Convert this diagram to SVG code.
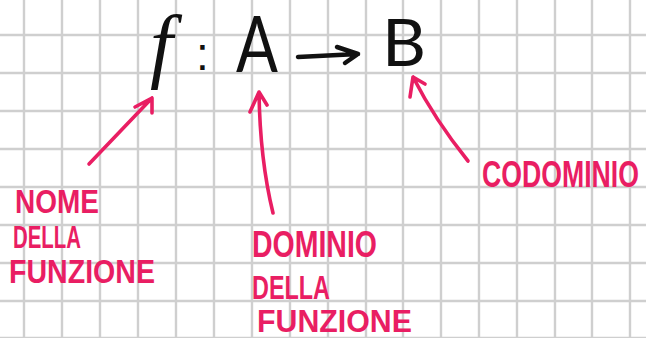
<svg xmlns="http://www.w3.org/2000/svg" width="646" height="338" viewBox="0 0 646 338">
<defs>
<style>
.grid line{stroke:#cfcfcf;stroke-width:2.4}
.ink{fill:#111}
.pink{fill:#e91e63;font-family:"Liberation Sans",Arial,sans-serif;font-weight:bold}
.pl{fill:none;stroke:#e91e63;stroke-width:3.6;stroke-linecap:round;stroke-linejoin:round}
.bl{fill:none;stroke:#111;stroke-width:4.5;stroke-linecap:round;stroke-linejoin:round}
</style>
</defs>
<rect width="646" height="338" fill="#ffffff"/>
<g class="grid">
<line x1="24" y1="0" x2="24" y2="338"/><line x1="62" y1="0" x2="62" y2="338"/><line x1="100" y1="0" x2="100" y2="338"/><line x1="138" y1="0" x2="138" y2="338"/><line x1="176" y1="0" x2="176" y2="338"/><line x1="214" y1="0" x2="214" y2="338"/><line x1="252" y1="0" x2="252" y2="338"/><line x1="290" y1="0" x2="290" y2="338"/><line x1="328" y1="0" x2="328" y2="338"/><line x1="366" y1="0" x2="366" y2="338"/><line x1="403" y1="0" x2="403" y2="338"/><line x1="441" y1="0" x2="441" y2="338"/><line x1="479" y1="0" x2="479" y2="338"/><line x1="517" y1="0" x2="517" y2="338"/><line x1="555" y1="0" x2="555" y2="338"/><line x1="592" y1="0" x2="592" y2="338"/><line x1="630" y1="0" x2="630" y2="338"/>
<line x1="0" y1="35" x2="646" y2="35"/><line x1="0" y1="73" x2="646" y2="73"/><line x1="0" y1="111" x2="646" y2="111"/><line x1="0" y1="149" x2="646" y2="149"/><line x1="0" y1="187" x2="646" y2="187"/><line x1="0" y1="225" x2="646" y2="225"/><line x1="0" y1="263" x2="646" y2="263"/><line x1="0" y1="301" x2="646" y2="301"/><line x1="0" y1="338" x2="646" y2="338"/>
</g>
<g id="node-f">
<text class="ink" x="150" y="72" font-family="'Liberation Serif',serif" font-style="italic" font-size="82">f</text>
</g>
<g id="node-colon">
<text class="ink" x="196" y="70" font-family="'Liberation Sans',sans-serif" font-size="46">:</text>
</g>
<g id="node-A">
<text class="ink" x="236" y="72" font-family="Lato,'Liberation Sans',sans-serif" font-weight="400" font-size="78" textLength="42" lengthAdjust="spacingAndGlyphs">A</text>
</g>
<g id="node-B">
<text class="ink" x="382" y="66" font-family="Lato,'Liberation Sans',sans-serif" font-weight="400" font-size="66" textLength="44" lengthAdjust="spacingAndGlyphs">B</text>
</g>
<g id="label-nome">
<text class="pink" x="15" y="213" font-size="34" textLength="84" lengthAdjust="spacingAndGlyphs">NOME</text>
<text class="pink" x="13" y="248" font-size="32" textLength="68" lengthAdjust="spacingAndGlyphs">DELLA</text>
<text class="pink" x="9" y="283" font-size="34" textLength="146" lengthAdjust="spacingAndGlyphs">FUNZIONE</text>
</g>
<g id="label-dominio">
<text class="pink" x="252" y="257" font-size="36" textLength="125" lengthAdjust="spacingAndGlyphs">DOMINIO</text>
<text class="pink" x="252" y="299" font-size="34" textLength="78" lengthAdjust="spacingAndGlyphs">DELLA</text>
<text class="pink" x="257" y="332" font-size="32" textLength="155" lengthAdjust="spacingAndGlyphs">FUNZIONE</text>
</g>
<g id="label-codominio">
<text class="pink" x="482" y="187" font-size="36" textLength="157" lengthAdjust="spacingAndGlyphs">CODOMINIO</text>
</g>
<g id="connectors">
<path class="bl" d="M298 57 L358 54 M337 47 L358 54 L345 63"/>
<path class="pl" d="M89 164 L152 98 M135 107 L152 98 L152 113"/>
<path class="pl" d="M273 213 Q260 160 259 92 M250 112 L259 92 L267 105"/>
<path class="pl" d="M468 161 Q435 120 413 77 M410 97 L413 77 L425 84"/>
</g>
</svg>
